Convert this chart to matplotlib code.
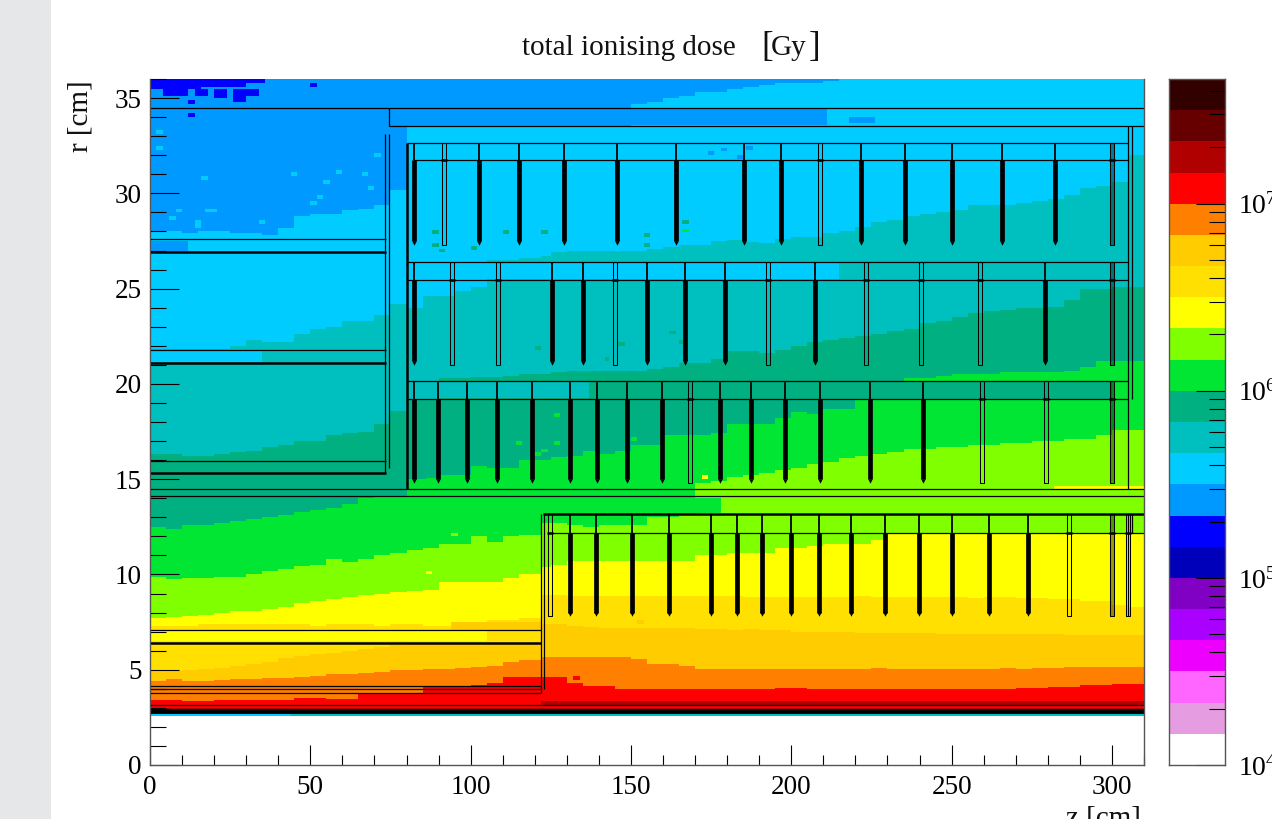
import numpy as np
import matplotlib
matplotlib.use('Agg')
import matplotlib.pyplot as plt
from matplotlib.colors import ListedColormap, BoundaryNorm
from matplotlib.patches import Rectangle
from matplotlib.ticker import MultipleLocator, LogLocator, NullFormatter, FixedLocator

plt.rcParams['font.family'] = ['Liberation Serif', 'DejaVu Serif']
plt.rcParams['mathtext.fontset'] = 'custom'
plt.rcParams['mathtext.rm'] = 'Liberation Serif'

# ---- colour bands, lowest dose first
band_colors = ['#FFFFFF', '#E59CE0', '#FF66FF', '#EE00FF', '#AA00FF', '#8000C4', '#0000BB', '#0000FF',
               '#0099FF', '#00CCFF', '#00BFBF', '#00B080', '#00E633', '#80FF00', '#FFFF00', '#FFE000',
               '#FFCC00', '#FF8000', '#FF0000', '#B00000', '#660000', '#330000']
band_exp = [4 + i / 6 for i in range(23)]

# ---- z column edges [cm]
z_edges = [0, 5, 10, 15, 20, 25, 30, 35, 40, 45, 50, 55, 60, 65, 70, 75, 80, 85, 90, 95, 100, 105, 110, 115, 122,
           125, 130, 135, 140, 145, 150, 155, 160, 165, 170, 175, 180, 185, 190, 195, 200, 205, 210, 215, 220, 225,
           230, 235, 240, 245, 250, 255, 260, 265, 270, 275, 280, 285, 290, 295, 300, 305, 310]

# ---- upper r [cm] of each dose band in each z column
upper_cyan = [28.0, 28.0, 27.9, 28.0, 28.0, 27.9, 27.9, 27.8, 28.2, 28.8, 28.9, 28.9, 29.1, 29.2, 29.4, 30.2,
              33.55, 33.55, 33.55, 33.55, 33.55, 33.55, 33.55, 33.55, 33.55, 33.55,
              33.55, 33.55, 33.55, 33.55, 34.7, 34.8, 35.0, 35.1, 35.3, 35.3,
              35.5, 35.6, 35.7, 35.8, 35.8, 35.8, 35.9, 36.0, 36.2, 36.2,
              36.2, 36.2, 36.2, 36.2, 36.2, 36.2, 36.2, 36.2, 36.2, 36.2,
              36.2, 36.2, 36.2, 36.2, 36.2, 36.2]
upper_teal = [21.85, 21.85, 21.85, 21.85, 21.85, 22.0, 22.3, 22.2, 22.2, 22.6, 22.9, 23.0, 23.3, 23.3, 23.6, 24.2,
              24.0, 24.6, 24.6, 24.9, 25.1, 26.5, 26.5, 26.6, 26.7, 26.9,
              27.0, 27.0, 27.0, 27.0, 27.0, 27.1, 27.2, 27.3, 27.3, 27.5,
              27.55, 27.45, 27.4, 27.6, 27.7, 27.7, 27.9, 28.0, 28.25, 28.5,
              28.6, 28.8, 28.9, 29.0, 29.1, 29.4, 29.4, 29.4, 29.5, 29.6,
              29.7, 29.9, 30.3, 30.4, 30.6, 32.0]
upper_seagreen = [16.3, 16.3, 16.2, 16.2, 16.3, 16.4, 16.5, 16.7, 16.8, 17.0, 17.0, 17.3, 17.4, 17.5, 17.9, 18.6,
                  19.2, 19.2, 20.3, 20.3, 20.35, 20.35, 20.4, 20.5, 20.5, 20.6,
                  20.7, 20.7, 20.7, 20.7, 20.7, 20.8, 20.9, 21.1, 21.1, 21.3,
                  21.7, 21.7, 21.6, 21.8, 22.0, 22.2, 22.3, 22.4, 22.5, 22.6,
                  22.8, 22.9, 23.2, 23.3, 23.5, 23.7, 23.8, 23.9, 24.0, 24.0,
                  24.05, 24.4, 25.0, 25.0, 25.1, 25.1]
upper_green = [12.5, 12.4, 12.6, 12.6, 12.7, 12.8, 12.9, 13.0, 13.1, 13.3, 13.4, 13.5, 13.7, 14.0, 14.1, 14.1,
               15.0, 15.05, 15.2, 15.2, 15.7, 15.6, 15.6, 16.0, 16.0, 16.15,
               16.2, 16.5, 16.3, 16.5, 16.8, 16.8, 17.3, 17.3, 17.3, 17.4,
               17.9, 17.9, 17.9, 18.2, 18.5, 18.4, 18.7, 18.7, 19.15, 19.15,
               19.15, 20.3, 20.3, 20.4, 20.5, 20.5, 20.5, 20.6, 20.6, 20.6,
               20.6, 20.7, 20.9, 21.2, 21.2, 21.2]
upper_lime = [9.85, 9.75, 9.8, 9.8, 9.85, 9.85, 10.0, 10.2, 10.3, 10.45, 10.5, 10.8, 10.65, 10.8, 11.0, 11.1,
              11.3, 11.4, 11.6, 11.6, 12.0, 11.7, 12.0, 12.05, 12.7, 12.7,
              12.6, 12.5, 12.6, 12.6, 12.6, 13.0, 13.0, 13.1, 14.8, 14.9,
              15.1, 15.2, 15.3, 15.5, 15.6, 15.8, 15.9, 16.1, 16.2, 16.3,
              16.4, 16.6, 16.6, 16.7, 16.7, 16.8, 16.8, 16.9, 16.9, 17.0,
              17.0, 17.1, 17.1, 17.3, 17.6, 17.6]
upper_yellow = [7.7, 7.75, 7.8, 7.85, 8.0, 8.1, 8.1, 8.2, 8.3, 8.5, 8.6, 8.7, 8.8, 8.9, 9.0, 9.1,
                9.15, 9.2, 9.6, 9.6, 9.6, 9.6, 9.8, 10.0, 10.4, 10.5,
                10.7, 10.7, 10.7, 10.7, 10.7, 10.7, 10.7, 10.7, 11.0, 11.0,
                11.1, 11.1, 11.1, 11.4, 11.4, 11.5, 11.6, 11.6, 11.6, 11.8,
                12.1, 12.1, 12.1, 12.15, 12.15, 12.15, 12.15, 12.15, 12.15, 12.15,
                12.15, 12.15, 12.15, 12.15, 12.15, 12.15]
upper_gold = [7.3, 7.3, 7.3, 7.4, 7.4, 7.4, 7.4, 7.4, 7.4, 7.4, 7.3, 7.4, 7.4, 7.4, 7.3, 7.4,
              7.4, 7.3, 7.3, 7.4, 7.4, 7.6, 7.6, 7.7, 8.9, 8.9,
              8.85, 8.85, 8.85, 8.85, 8.85, 8.85, 8.85, 8.85, 8.85, 8.85,
              8.85, 8.8, 8.8, 8.8, 8.8, 8.8, 8.8, 8.8, 8.85, 8.8,
              8.8, 8.8, 8.8, 8.8, 8.8, 8.75, 8.8, 8.8, 8.75, 8.75,
              8.7, 8.7, 8.6, 8.6, 8.4, 8.3]
upper_amber = [4.95, 4.95, 5.0, 5.05, 5.1, 5.2, 5.3, 5.4, 5.6, 5.7, 5.8, 5.9, 6.0, 6.1, 6.2, 6.3,
               6.35, 6.35, 6.4, 6.4, 6.4, 6.4, 6.4, 6.4, 7.4, 7.4,
               7.3, 7.25, 7.2, 7.2, 7.2, 7.2, 7.2, 7.2, 7.15, 7.15,
               7.1, 7.15, 7.1, 7.1, 7.0, 7.0, 7.0, 7.0, 6.95, 6.95,
               6.95, 6.95, 6.95, 6.9, 6.9, 6.9, 6.9, 6.85, 6.85, 6.85,
               6.85, 6.8, 6.8, 6.8, 6.8, 6.8]
upper_orange = [4.4, 4.5, 4.4, 4.4, 4.45, 4.5, 4.5, 4.55, 4.55, 4.6, 4.65, 4.75, 4.75, 4.85, 4.9, 5.0,
                5.0, 5.05, 5.05, 5.1, 5.15, 5.2, 5.4, 5.5, 5.65, 5.65,
                5.65, 5.65, 5.65, 5.65, 5.55, 5.3, 5.3, 5.2, 5.05, 5.05,
                5.05, 5.05, 5.05, 5.05, 5.05, 5.05, 5.05, 5.05, 5.05, 5.1,
                5.05, 5.05, 5.05, 5.05, 5.05, 5.05, 5.05, 5.1, 5.05, 5.1,
                5.1, 5.15, 5.15, 5.15, 5.15, 5.15]
upper_red = [3.4, 3.4, 3.35, 3.35, 3.4, 3.4, 3.4, 3.4, 3.4, 3.5, 3.5, 3.45, 3.45, 3.8, 3.8, 3.8,
             3.8, 4.15, 4.15, 4.15, 4.2, 4.3, 4.6, 4.6, 4.6, 4.6,
             4.3, 4.15, 4.15, 4.0, 4.0, 4.0, 4.0, 4.0, 4.0, 4.0,
             4.0, 4.0, 4.0, 4.05, 4.05, 4.0, 4.0, 4.0, 4.0, 4.0,
             4.0, 4.0, 4.0, 4.0, 4.0, 4.0, 4.0, 4.0, 4.05, 4.05,
             4.1, 4.1, 4.2, 4.2, 4.25, 4.25]
upper_darkred = [3.0] * 24 + [3.37] * 38
band_uppers = [(9, upper_cyan), (10, upper_teal), (11, upper_seagreen), (12, upper_green), (13, upper_lime),
               (14, upper_yellow), (15, upper_gold), (16, upper_amber), (17, upper_orange), (18, upper_red),
               (19, upper_darkred)]

# ---- cells that differ from the column layering: z0, z1, r0, r1, band
local_cells = [
    (74, 211, 33.6, 34.5, 8), (218, 226, 33.7, 34.0, 8),
    (0, 12, 27.0, 27.5, 8), (0, 35, 21.15, 21.8, 9), (105, 215, 25.5, 26.35, 9),
    (80, 137, 19.25, 20.15, 10), (228, 300, 19.2, 20.15, 11), (170, 178, 13.2, 14.0, 12),
    (282, 310, 14.5, 14.65, 14), (172, 310, 13.15, 13.25, 14), (0, 105, 6.5, 7.1, 14), (94, 122, 7.1, 7.5, 16),
    (0, 16, 35.5, 36, 7), (16, 30, 35.6, 36, 7), (30, 36, 35.8, 36, 7), (4, 12, 35.1, 35.5, 7),
    (14, 18, 35.1, 35.5, 7), (20, 24, 35.0, 35.5, 7), (26, 30, 34.8, 35.5, 7), (30, 34, 35.1, 35.5, 7),
    (12, 14, 34.7, 34.9, 7), (12, 14, 34.0, 34.2, 7), (50, 52, 35.6, 35.8, 7),
    (118, 310, 3.0, 3.12, 18), (0, 310, 0, 2.55, 0), (0, 44, 2.55, 2.72, 9), (44, 310, 2.55, 2.72, 10),
]

# ---- single stray cells: z, r, band
stray_cells = [
    (89, 27.95, 11), (89, 27.3, 11), (110.7, 27.95, 11), (122.6, 27.95, 11), (100.9, 27.15, 11), (90.7, 27.0, 11),
    (166.8, 28.5, 11), (155, 27.8, 11), (155, 27.3, 11), (167, 28.05, 12),
    (120.8, 21.9, 11), (162.7, 22.7, 11), (166, 22.2, 11), (142.5, 21.3, 11), (146.8, 22.1, 11),
    (3, 33.2, 9), (3, 32.4, 9), (71, 32.0, 9), (17, 30.8, 9), (45, 31.0, 9), (59, 31.1, 9), (67, 31.0, 9),
    (55, 30.6, 9), (69, 30.3, 9), (53, 29.8, 9), (51, 29.5, 9), (9, 29.1, 9), (18, 29.1, 9), (20, 29.1, 9),
    (7, 28.7, 9), (15, 28.3, 9), (15, 28.5, 9), (35, 28.5, 9),
    (174.6, 32.1, 8), (178.8, 32.3, 8), (184, 31.9, 8), (186.6, 32.4, 8),
    (127, 18.35, 12), (114.7, 16.9, 12), (127, 16.9, 12), (150.7, 17.1, 12), (123, 16.5, 12), (121, 16.3, 12),
    (84.7, 15.1, 11), (94.6, 12.1, 13), (86.8, 10.1, 14), (172.6, 15.1, 14),
    (132.7, 4.55, 18), (152.8, 7.5, 16),
]

# ---- detector outlines [cm]
h_lines = [(0, 310, 34.5), (74.5, 310, 33.55), (80, 305, 32.65), (82, 305, 31.75),
           (0, 73.5, 27.6), (0, 73.5, 21.8), (0, 73.5, 15.95), (0, 310, 14.47), (0, 310, 14.1),
           (80, 305, 26.4), (80, 305, 25.45), (80, 305, 20.15), (80, 305, 19.2),
           (124.5, 310, 12.15), (0, 122, 7.1), (0, 122, 4.15), (0, 122, 3.98), (0, 122, 3.76),
           (0, 310, 3.15)]
h_thick = [(0, 73.5, 26.9), (0, 73.5, 21.1), (0, 73.5, 15.3), (0, 122, 6.4), (122.5, 310, 13.15)]
v_lines = [(74.5, 33.55, 34.5), (73.4, 15.3, 33.1), (74.5, 15.6, 33.1), (122, 3.76, 13.15), (123, 4.0, 13.15),
           (305, 14.5, 33.55), (306.2, 19.2, 33.55), (305, 7.8, 13.15), (306.2, 12.15, 13.15)]
v_thick = [(80, 14.47, 32.65)]

row_limits = [(32.65, 31.75, 27.3), (26.4, 25.45, 21.0), (20.15, 19.2, 14.8), (13.15, 12.15, 7.8)]
row_solid = [
    [82.3, 102.6, 115.1, 129.1, 145.6, 164.0, 185.2, 196.8, 221.7, 235.4, 250.1, 265.7, 282.2],
    [82.3, 125.4, 135.0, 155.0, 166.8, 179.3, 207.4, 279.1],
    [82.3, 89.8, 98.8, 108.2, 119.1, 131.0, 139.4, 148.7, 159.7, 177.7, 187.4, 198.0, 208.9, 224.5, 241.0],
    [131.0, 139.1, 150.3, 161.8, 174.9, 183.0, 190.8, 199.9, 208.6, 218.6, 229.2, 239.8, 250.1, 261.6, 273.8],
]
row_hollow = [
    [91.7, 208.9, 300.0],
    [94.2, 108.5, 145.0, 192.7, 223.3, 240.4, 258.8, 300.0],
    [168.4, 259.4, 279.4, 300.0],
    [124.7, 286.6, 300.0, 305.0],
]

# ---- build the dose map
W, H = 1272, 819
r_edges = np.arange(0, 36.001, 0.05)
r_mid = 0.5 * (r_edges[:-1] + r_edges[1:])
z_arr = np.array(z_edges, float)
band = np.full((len(r_mid), len(z_arr) - 1), 8, dtype=int)
for b, upper in band_uppers:
    for j, u in enumerate(upper):
        band[r_mid < u, j] = b
zfine = np.arange(0, 310.01, 1.0)
zfine_mid = 0.5 * (zfine[:-1] + zfine[1:])
col = np.searchsorted(z_arr, zfine_mid) - 1
band = band[:, col]
for z0, z1, r0, r1, b in local_cells:
    band[np.ix_((r_mid > r0) & (r_mid < r1), (zfine_mid > z0) & (zfine_mid < z1))] = b
for z, r, b in stray_cells:
    band[np.ix_((r_mid > r - 0.1) & (r_mid < r + 0.1), (zfine_mid > z - 1) & (zfine_mid < z + 1))] = b
dose_exp = np.array(band_exp)[band] + 1 / 12

fig = plt.figure(figsize=(W / 100, H / 100), dpi=100, facecolor='white')
fig.patches.append(Rectangle((0, 0), 51 / W, 1, transform=fig.transFigure, color='#E6E7E9', lw=0))


def axes_px(x0, y0, x1, y1):
    return fig.add_axes([x0 / W, 1 - y1 / H, (x1 - x0) / W, (y1 - y0) / H])


cmap = ListedColormap(band_colors)
norm = BoundaryNorm(band_exp, cmap.N)

ax = axes_px(150, 79, 1144, 765)
ax.pcolormesh(zfine, r_edges, dose_exp, cmap=cmap, norm=norm, shading='flat', antialiased=False, rasterized=True)
ax.set_xlim(0, 310)
ax.set_ylim(0, 36)

LW = 0.9
for z0, z1, r in h_lines:
    ax.plot([z0, z1], [r, r], color='black', lw=LW, solid_capstyle='butt')
for z0, z1, r in h_thick:
    ax.plot([z0, z1], [r, r], color='black', lw=1.8, solid_capstyle='butt')
for z, r0, r1 in v_lines:
    ax.plot([z, z], [r0, r1], color='black', lw=LW, solid_capstyle='butt')
for z, r0, r1 in v_thick:
    ax.plot([z, z], [r0, r1], color='black', lw=1.8, solid_capstyle='butt')
ax.plot([0, 310], [2.83, 2.83], color='black', lw=3.4, solid_capstyle='butt')
for (top, mid, bottom), solids, hollows in zip(row_limits, row_solid, row_hollow):
    for z in solids:
        ax.plot([z, z], [top, mid], color='black', lw=1.3, solid_capstyle='butt')
        ax.plot([z, z], [mid, bottom + 0.2], color='black', lw=3.4, solid_capstyle='butt')
        ax.plot([z], [bottom + 0.1], marker='v', ms=3.2, color='black', mew=0)
    for z in hollows:
        shade = 0.4 if z == 300.0 else 0.0
        ax.add_patch(Rectangle((z - 0.6, bottom), 1.2, top - bottom, facecolor=(0, 0, 0, shade),
                               edgecolor='black', lw=0.75))
        ax.plot([z - 0.9, z + 0.9], [mid, mid], color='black', lw=1.8, solid_capstyle='butt')

ax.xaxis.set_major_locator(MultipleLocator(50))
ax.xaxis.set_minor_locator(MultipleLocator(10))
ax.yaxis.set_major_locator(MultipleLocator(5))
ax.yaxis.set_minor_locator(MultipleLocator(1))
ax.tick_params(which='major', axis='y', direction='in', length=21, width=0.8, labelsize=19.5, pad=6)
ax.tick_params(which='minor', axis='y', direction='in', length=11.5, width=0.8)
ax.tick_params(which='major', axis='x', direction='in', length=14.5, width=0.8, labelsize=19.5, pad=7)
ax.tick_params(which='minor', axis='x', direction='in', length=7.5, width=0.8)
ax.spines['top'].set_visible(False)
for s in ['left', 'right', 'bottom']:
    ax.spines[s].set_color('#555555')
    ax.spines[s].set_linewidth(1.0)

# colour bar
cax = axes_px(1169, 79, 1225, 765)
cb_edges = np.array(band_exp)
cax.pcolormesh([0, 1], 10 ** cb_edges, (cb_edges[:-1] + 1 / 12).reshape(-1, 1), cmap=cmap, norm=norm,
               shading='flat', antialiased=False)
cax.set_yscale('log')
cax.set_ylim(10 ** band_exp[0], 10 ** band_exp[-1])
cax.set_xlim(0, 1)
cax.xaxis.set_visible(False)
cax.yaxis.tick_right()
cax.yaxis.set_major_locator(FixedLocator([1e4, 1e5, 1e6, 1e7]))
cax.yaxis.set_minor_locator(LogLocator(base=10, subs=range(2, 10), numticks=12))
cax.yaxis.set_minor_formatter(NullFormatter())
cax.set_yticklabels([r'$\mathrm{10^{4}}$', r'$\mathrm{10^{5}}$', r'$\mathrm{10^{6}}$', r'$\mathrm{10^{7}}$'])
cax.tick_params(which='major', direction='in', length=21, width=0.8, labelsize=20, pad=9)
cax.tick_params(which='minor', direction='in', length=11.5, width=0.8)
for s in cax.spines.values():
    s.set_color('#555555')
    s.set_linewidth(1.0)


def label(x, y, s, size, **kw):
    fig.text(x / W, 1 - y / H, s, fontsize=size, color='#111111', **kw)


label(522, 55, 'total ionising dose', 21, ha='left', va='baseline')
label(761, 56, '[', 25, ha='left', va='baseline')
label(771, 55, 'Gy', 21, ha='left', va='baseline')
label(809, 56, ']', 25, ha='left', va='baseline')
label(80, 80, 'r [cm]', 21, rotation=90, ha='center', va='top')
label(1141, 826, 'z [cm]', 21, ha='right', va='baseline')

fig.savefig('out.png', dpi=100, facecolor='white')
